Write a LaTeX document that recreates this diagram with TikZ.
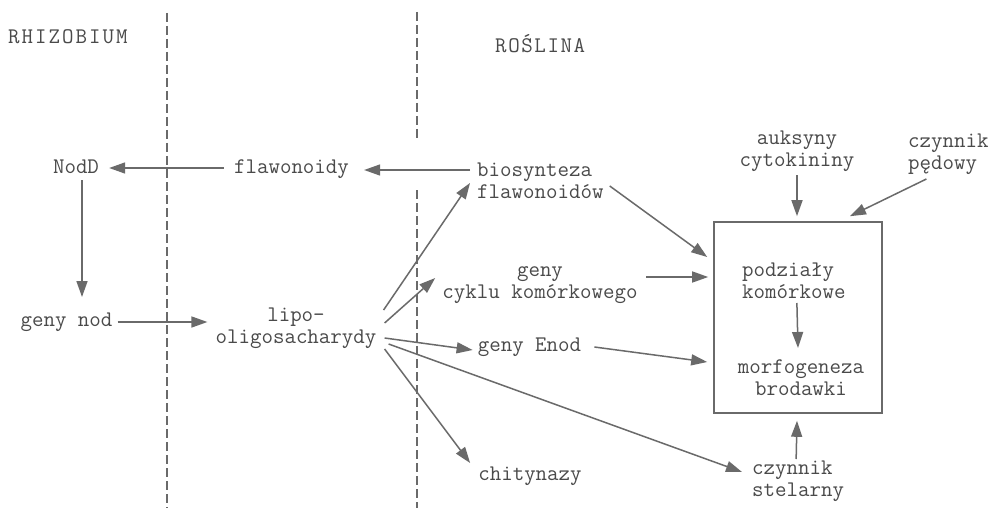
\documentclass[tikz,border=0pt]{standalone}
\usepackage{fontspec}
\usetikzlibrary{arrows.meta,calc}
\definecolor{ink}{HTML}{4A4A4A}
\definecolor{ln}{HTML}{6A6A6A}
\begin{document}
\begin{tikzpicture}[x=1pt,y=-1pt,
  lbl/.style={text=ink, font=\ttfamily\fontsize{22.3}{22}\selectfont, inner sep=0pt},
  arr/.style={draw=ln, line width=1.5pt, -{Triangle[length=16pt,width=11pt]}},
  sepline/.style={draw=ln, line width=1.1pt, dash pattern=on 9pt off 4pt},
  boxst/.style={draw=ln, line width=1.6pt, inner sep=0pt}]
\fill[white] (0,0) rectangle (993,508);
\useasboundingbox (0,0) rectangle (993,508);

% separators
\draw[sepline] (167,13) -- (167,508);
\draw[sepline] (417,12) -- (417,140);
\draw[sepline] (417,190) -- (417,508);

% headings
\node[lbl, anchor=west] (rhiz) at (8,37) {R\kern2pt H\kern2pt I\kern2pt Z\kern2pt O\kern2pt B\kern2pt I\kern2pt U\kern2pt M};
\node[lbl, anchor=west] (ros) at (495,44) {R\kern1.6pt O\kern1.6pt Ś\kern1.6pt L\kern1.6pt I\kern1.6pt N\kern1.6pt A};

% nodes
\node[lbl] (nodd) at (76,167) {NodD};
\node[lbl] (flaw) at (291.5,169) {flawonoidy};
\node[lbl, anchor=west, align=left] (bio) at (477,181) {biosynteza\\flawonoidów};
\node[lbl, align=center] (aux) at (797,151) {auksyny\\cytokininy};
\node[lbl, anchor=west, align=left] (ped) at (908,154) {czynnik\\pędowy};
\node[lbl, align=center] (cyk) at (540,285) {geny\\cyklu komórkowego};
\node[lbl] (nod) at (66.5,322) {geny nod};
\node[lbl, align=center] (lipo) at (296,328) {lipo-\\oligosacharydy};
\node[lbl] (enod) at (529.5,347) {geny Enod};
\node[lbl] (chit) at (530,476) {chitynazy};
\node[lbl, anchor=west, align=left] (stel) at (752,481.5) {czynnik\\stelarny};
\node[boxst, minimum width=168pt, minimum height=191pt] (box) at (798,317.5) {};
\node[lbl, anchor=west, align=left] (pod) at (742,280.5) {podziały\\komórkowe};
\node[lbl, align=center] (morf) at (801,377.5) {morfogeneza\\brodawki};

% connectors
\draw[arr] ($(bio.west)+(-7,-11)$) -- ($(flaw.east)+(15,1)$);
\draw[arr] ($(flaw.west)+(-10,-1)$) -- ($(nodd.east)+(10,1)$);
\draw[arr] ($(nodd.center)+(6,13)$) -- ($(nod.center)+(15.5,-25)$);
\draw[arr] ($(nod.east)+(5,0)$) -- ($(lipo.west)+(-8,-6)$);

\draw[arr] ($(lipo.east)+(7,-18)$) -- ($(bio.west)+(-7,2)$);
\draw[arr] ($(lipo.east)+(8,-5)$) -- ($(cyk.west)+(-7,-7)$);
\draw[arr] ($(lipo.east)+(8,10)$) -- ($(enod.west)+(-5,3)$);
\draw[arr] ($(lipo.east)+(12,16)$) -- ($(stel.west)+(-10,-9.5)$);
\draw[arr] ($(lipo.east)+(8,21)$) -- ($(chit.west)+(-8,-13)$);

\draw[arr] ($(bio.east)+(6,5)$) -- ($(box.west)+(-6,-60.5)$);
\draw[arr] ($(cyk.east)+(8.5,-8)$) -- ($(box.west)+(-5,-40.5)$);
\draw[arr] ($(enod.east)+(13,0)$) -- ($(box.west)+(-6,44.5)$);
\draw[arr] ($(aux.center)+(0,24)$) -- ($(box.north)+(-1,-5)$);
\draw[arr] ($(ped.center)+(-22,25)$) -- ($(box.north)+(52,-5)$);
\draw[arr] ($(pod.center)+(3,22.5)$) -- ($(morf.center)+(-3,-29.5)$);
\draw[arr] ($(stel.center)+(-2,-22.5)$) -- ($(box.south)+(-1,7)$);
\end{tikzpicture}
\end{document}
